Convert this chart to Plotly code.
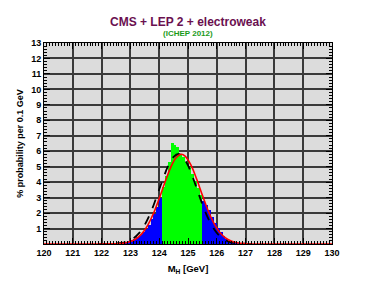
import plotly.graph_objects as go

# ---- data ----
blue_left_edges = [122.4, 122.5, 122.6, 122.7, 122.8, 122.9, 123.0, 123.1, 123.2, 123.3,
                   123.4, 123.5, 123.6, 123.7, 123.8, 123.9, 124.0]
blue_left_vals = [0.02, 0.04, 0.06, 0.10, 0.15, 0.20, 0.28, 0.35, 0.45, 0.60,
                  0.80, 1.00, 1.25, 1.60, 1.95, 2.40, 3.00]

green_edges = [124.1, 124.2, 124.3, 124.4, 124.5, 124.6, 124.7, 124.8, 124.9, 125.0,
               125.1, 125.2, 125.3, 125.4]
green_vals = [3.70, 4.40, 5.30, 6.55, 6.40, 6.25, 5.85, 5.60, 5.30, 4.95,
              4.50, 4.05, 3.60, 3.15]

blue_right_edges = [125.5, 125.6, 125.7, 125.8, 125.9, 126.0, 126.1, 126.2, 126.3, 126.4,
                    126.5, 126.6, 126.7, 126.8]
blue_right_vals = [2.75, 2.50, 2.20, 1.75, 1.35, 1.05, 0.75, 0.50, 0.32, 0.20,
                   0.12, 0.07, 0.04, 0.02]

red_x = [120.0, 121.5, 122.0, 122.3, 122.6, 122.8, 123.0, 123.2, 123.4, 123.6, 123.8, 124.0,
         124.2, 124.4, 124.6, 124.77, 124.9, 125.1, 125.3, 125.5, 125.7, 125.9, 126.1,
         126.3, 126.5, 126.7, 127.0, 127.3, 128.0, 130.0]
red_y = [0.0, 0.0, 0.0, 0.005, 0.03, 0.07, 0.16, 0.34, 0.67, 1.21, 1.97, 2.94,
         3.99, 4.96, 5.61, 5.80, 5.69, 5.12, 4.20, 3.15, 2.15, 1.34, 0.76,
         0.39, 0.19, 0.08, 0.02, 0.0, 0.0, 0.0]

dash_x = [121.9, 122.2, 122.5, 122.7, 122.9, 123.1, 123.3, 123.5, 123.7, 123.9, 124.1,
          124.3, 124.5, 124.67, 124.8, 125.0, 125.2, 125.4, 125.6, 125.8, 126.0,
          126.2, 126.4, 126.6, 126.9, 127.2]
dash_y = [0.0, 0.01, 0.03, 0.07, 0.17, 0.36, 0.70, 1.25, 2.02, 3.00, 4.04,
          5.00, 5.63, 5.82, 5.68, 5.08, 4.14, 3.08, 2.08, 1.28, 0.72,
          0.37, 0.17, 0.07, 0.02, 0.0]

x_ticks = list(range(120, 131))
y_ticks = list(range(1, 14))

# ---- figure ----
fig = go.Figure()
fig.add_trace(go.Bar(x=blue_left_edges, y=blue_left_vals, width=0.1, offset=0,
                     marker=dict(color="#0000ff", line=dict(width=0))))
fig.add_trace(go.Bar(x=green_edges, y=green_vals, width=0.1, offset=0,
                     marker=dict(color="#00ff00", line=dict(width=0))))
fig.add_trace(go.Bar(x=blue_right_edges, y=blue_right_vals, width=0.1, offset=0,
                     marker=dict(color="#0000ff", line=dict(width=0))))
fig.add_trace(go.Scatter(x=dash_x, y=dash_y, mode="lines",
                         line=dict(color="black", width=1.8, dash="dash", shape="spline")))
fig.add_trace(go.Scatter(x=red_x, y=red_y, mode="lines",
                         line=dict(color="#ff0000", width=1.6, shape="spline")))

tickfont = dict(family="Liberation Sans, Arial, sans-serif", size=9, color="black", weight="bold")

# page body has an 8px margin, so the margins are reduced by 8 on left/top
fig.update_layout(
    width=374, height=289,
    margin=dict(l=36, r=50, t=35, b=53),
    paper_bgcolor="white",
    plot_bgcolor="#dcdcdc",
    showlegend=False,
    bargap=0,
    barmode="overlay",
    font=dict(family="Liberation Sans, Arial, sans-serif"),
    xaxis=dict(
        range=[120, 130], tickvals=x_ticks, ticktext=[str(v) for v in x_ticks],
        automargin=False,
        showgrid=True, gridcolor="#3a3a3a", gridwidth=1.5,
        showline=True, linecolor="black", linewidth=1, mirror="allticks",
        ticks="inside", ticklen=6, tickcolor="black",
        minor=dict(dtick=0.1, ticks="inside", ticklen=3, tickcolor="black", showgrid=False),
        tickfont=tickfont, zeroline=False,
        title=dict(text="M<sub>H</sub> [GeV]", font=dict(size=9.5, color="black", weight="bold"), standoff=8),
    ),
    yaxis=dict(
        range=[0, 13], tickvals=y_ticks, ticktext=[str(v) for v in y_ticks],
        automargin=False,
        showgrid=True, gridcolor="#3a3a3a", gridwidth=1.5,
        showline=True, linecolor="black", linewidth=1, mirror="allticks",
        ticks="inside", ticklen=6, tickcolor="black",
        minor=dict(dtick=0.2, ticks="inside", ticklen=3, tickcolor="black", showgrid=False),
        tickfont=tickfont, zeroline=False,
        title=dict(text="% probability per 0.1 GeV", font=dict(size=9, color="black", weight="bold"), standoff=6),
    ),
    annotations=[
        dict(text="CMS + LEP 2 + electroweak", xref="paper", yref="paper", x=0.5, y=1.0,
             yshift=12, xanchor="center", yanchor="bottom", showarrow=False,
             font=dict(size=12, color="#6a1050", weight="bold")),
        dict(text="(ICHEP 2012)", xref="paper", yref="paper", x=0.5, y=1.0,
             yshift=3, xanchor="center", yanchor="bottom", showarrow=False,
             font=dict(size=8, color="#1a9a1a", weight="bold")),
    ],
)

fig.write_html("out.html")
